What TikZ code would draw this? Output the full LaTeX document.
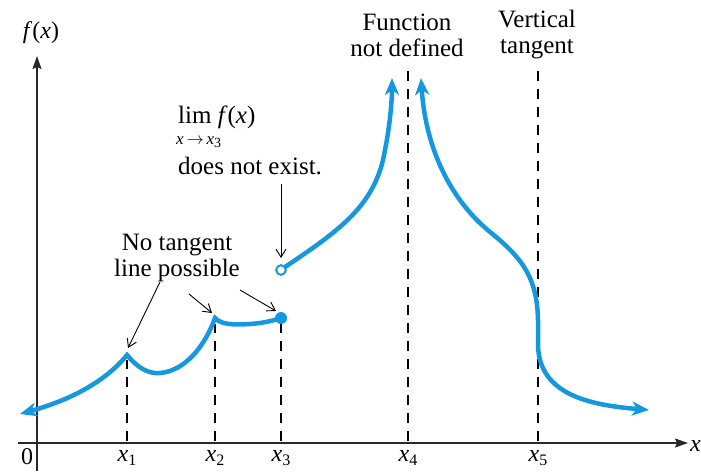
\documentclass[tikz,border=0pt]{standalone}
\usepackage{fontspec}
\setmainfont{Liberation Serif}
\usetikzlibrary{arrows.meta}
\definecolor{curveblue}{RGB}{22,152,222}
\definecolor{axisgray}{RGB}{40,40,40}
\newcommand\xlab[1]{\textit{x}\raisebox{-0.4ex}{\fontsize{16}{16}\selectfont #1}}
\begin{document}
\begin{tikzpicture}[x=1pt,y=-1pt,
  bluetip/.tip={Stealth[length=17pt,width=14pt,inset=5pt]},
  curve/.style={curveblue,line width=4.5pt,line cap=round},
  axis/.style={axisgray,line width=1.6pt,-{Stealth[length=13pt,width=9pt,inset=2pt]}},
  guide/.style={black,line width=1.3pt,dash pattern=on 10pt off 8pt},
  note/.style={black,line width=0.9pt,-{Straight Barb[length=8pt,width=10pt]}},
  lbl/.style={font=\fontsize{25}{26}\selectfont,inner sep=0pt},
  tick/.style={font=\fontsize{24}{24}\selectfont,inner sep=0pt}]
\useasboundingbox (0,0) rectangle (701,471);
% axes
\coordinate (xs) at (18,443);
\coordinate (xe) at (688,443);
\coordinate (ys) at (37,471);
\coordinate (ye) at (37,56);
\draw[axis] (xs) -- (xe);
\draw[axis] (ys) -- (ye);
\node[tick] (ylab) at (41,33) {\textit{f}(\textit{x})};
\node[tick,anchor=east] (xlab) at (701,446) {\textit{x}};
\node[tick] (zero) at (27,457) {0};
% tick labels
\node[tick] (l1) at (127,458) {\xlab{1}};
\node[tick] (l2) at (215,458) {\xlab{2}};
\node[tick] (l3) at (281,458) {\xlab{3}};
\node[tick] (l4) at (408,458) {\xlab{4}};
\node[tick] (l5) at (538,458) {\xlab{5}};
% key points
\coordinate (c1) at (127,355);
\coordinate (c2) at (215,318);
\coordinate (d3) at (281,318);
\coordinate (o3) at (281,270);
% dashed guides
\coordinate (b1) at (127,441);
\coordinate (b2) at (215,441);
\coordinate (b3) at (281,441);
\coordinate (b4) at (408,441);
\coordinate (b5) at (538,441);
\coordinate (t1) at (127,360);
\coordinate (t2) at (215,324);
\coordinate (t3) at (281,324);
\coordinate (t4) at (408,70);
\coordinate (t5) at (538,68);
\draw[guide] (b1) -- (t1);
\draw[guide] (b2) -- (t2);
\draw[guide] (b3) -- (t3);
\draw[guide] (b4) -- (t4);
\draw[guide] (b5) -- (t5);
% curve pieces
\draw[curve,{bluetip}-] (20,414) .. controls (70,400) and (105,382) .. (c1)
  .. controls (138,368) and (148,374) .. (160,373)
  .. controls (185,371) and (205,346) .. (c2)
  .. controls (221,325) and (236,325) .. (250,324)
  .. controls (265,323) and (275,320) .. (d3);
\fill[curveblue] (d3) circle (6pt);
\draw[curve,-{bluetip}] (285,267) .. controls (340,230) and (376,205) .. (385,150)
  .. controls (390,125) and (392,100) .. (392,78);
\draw[curveblue,line width=2pt,fill=white] (o3) circle (4.8pt);
\draw[curve,{bluetip}-{bluetip}] (421,78) .. controls (425,140) and (445,195) .. (490,232)
  .. controls (525,260) and (537,280) .. (538,320) -- (538,345)
  .. controls (539,395) and (590,405) .. (649,410);
% annotations
\node[lbl,align=center] (nt) at (177,258) {No tangent\\line possible};
\coordinate (n1) at (160,282);
\coordinate (n2) at (189,294);
\coordinate (n3) at (240,290);
\coordinate (e1) at (128,348);
\coordinate (e2) at (212,313);
\coordinate (e3) at (276,311);
\draw[note] (n1) -- (e1);
\draw[note] (n2) -- (e2);
\draw[note] (n3) -- (e3);
\node[lbl,anchor=west] (lim) at (178,117) {lim \textit{f}(\textit{x})};
\node[anchor=west,inner sep=0pt,font=\fontsize{17}{17}\selectfont] (limsub) at (176,142) {\textit{x}\,$\rightarrow$\,\textit{x}\raisebox{-0.4ex}{\fontsize{14}{14}\selectfont 3}};
\node[lbl,anchor=west] (dne) at (178,166) {does not exist.};
\coordinate (a1) at (281,184);
\coordinate (a2) at (281,258);
\draw[note] (a1) -- (a2);
\node[lbl,align=center] (fnd) at (407,35) {Function\\not defined};
\node[lbl,align=center] (vt) at (537,35) {Vertical\\tangent};
\end{tikzpicture}
\end{document}
